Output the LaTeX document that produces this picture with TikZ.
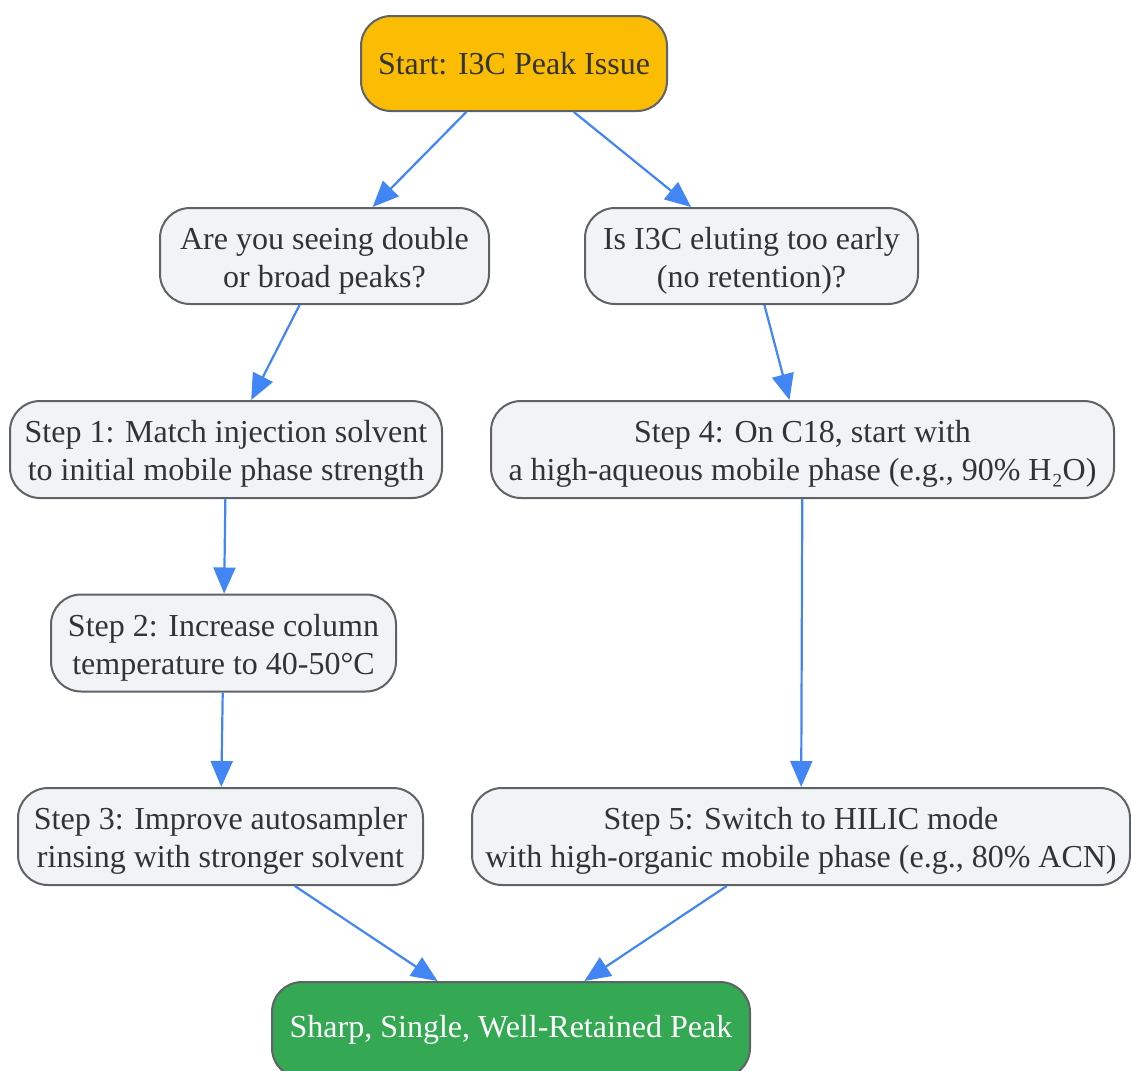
\documentclass[tikz,border=0pt]{standalone}
\usepackage{fontspec}
\setmainfont{Liberation Serif}
\usetikzlibrary{arrows.meta}

\definecolor{startyellow}{HTML}{FBBC04}
\definecolor{goalgreen}{HTML}{34A853}
\definecolor{boxgray}{HTML}{F1F3F4}
\definecolor{edgegray}{HTML}{5F6368}
\definecolor{arrowblue}{HTML}{4285F4}
\definecolor{textdark}{HTML}{333333}

\newcommand{\lowstrut}{\rule{0pt}{15.5pt}}

\begin{document}
\begin{tikzpicture}[x=0.5pt, y=-0.5pt,
every node/.style={font=\fontsize{16}{19}\selectfont, align=center},
startnode/.style={rounded corners=15pt, draw=edgegray, line width=1pt, fill=startyellow, text=textdark, minimum height=47.5pt},
question/.style={rounded corners=15pt, draw=edgegray, line width=1pt, fill=boxgray, text=textdark, minimum height=48pt},
stepbox/.style={rounded corners=15pt, draw=edgegray, line width=1pt, fill=boxgray, text=textdark, minimum height=48.5pt},
goal/.style={rounded corners=15pt, draw=edgegray, line width=1pt, fill=goalgreen, text=white, minimum height=48pt},
flow/.style={-{Triangle[length=13pt, width=11pt]}, line width=1.1pt, color=arrowblue},
]
\useasboundingbox (0,0) rectangle (1131,1071);

% Centres of the boxes
\coordinate (c_start) at (514,63.5);   % Top
\coordinate (c_q1) at (324.5,256);     % Left question
\coordinate (c_q2) at (751.5,256);     % Right question
\coordinate (c_s1) at (226,449.5);     % Left column
\coordinate (c_s2) at (223.5,643);
\coordinate (c_s3) at (220.5,836.5);
\coordinate (c_s4) at (802.5,449.5);   % Right column
\coordinate (c_s5) at (801,836.5);
\coordinate (c_end) at (511,1030);     % Bottom

% Nodes at the centres
\node[startnode, minimum width=153pt] (start) at (c_start) {Start: I3C Peak Issue};

\node[question, minimum width=164.5pt] (q1) at (c_q1) {\lowstrut Are you seeing double\\or broad peaks?};
\node[question, minimum width=166.5pt] (q2) at (c_q2) {\lowstrut Is I3C eluting too early\\(no retention)?};

\node[stepbox, minimum width=216pt] (s1) at (c_s1) {\lowstrut Step 1: Match injection solvent\\to initial mobile phase strength};
\node[stepbox, minimum width=172.5pt] (s2) at (c_s2) {\lowstrut Step 2: Increase column\\temperature to 40-50°C};
\node[stepbox, minimum width=202.5pt] (s3) at (c_s3) {\lowstrut Step 3: Improve autosampler\\rinsing with stronger solvent};

\node[stepbox, minimum width=311.5pt] (s4) at (c_s4) {\lowstrut Step 4: On C18, start with\\a high-aqueous mobile phase (e.g., 90\% H₂O)};
\node[stepbox, minimum width=329pt] (s5) at (c_s5) {\lowstrut Step 5: Switch to HILIC mode\\with high-organic mobile phase (e.g., 80\% ACN)};

\node[goal, minimum width=239pt] (end) at (c_end) {Sharp, Single, Well-Retained Peak};

% Draw connecting arrows
\draw[flow] (start) to (q1);
\draw[flow] (start) to (q2);
\draw[flow] (q1) to (s1);
\draw[flow] (s1) to (s2);
\draw[flow] (s2) to (s3);
\draw[flow] (q2) to (s4);
\draw[flow] (s4) to (s5);
\draw[flow] (s3) to (end);
\draw[flow] (s5) to (end);

\end{tikzpicture}
\end{document}
